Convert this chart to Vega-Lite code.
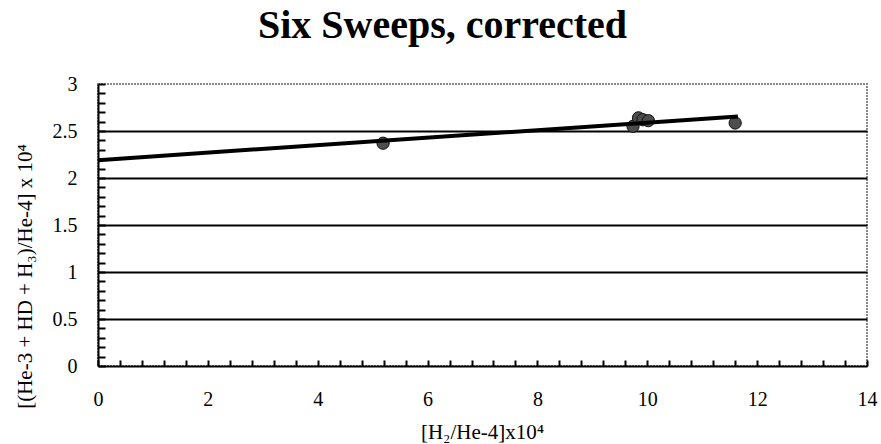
{
  "$schema": "https://vega.github.io/schema/vega-lite/v6.json",
  "autosize": {"type": "none"},
  "width": 769,
  "height": 282,
  "padding": {"left": 98, "top": 84, "right": 14, "bottom": 78},
  "background": "white",
  "config": {
    "font": "Liberation Serif",
    "view": {"stroke": "#888888", "strokeDash": [2, 1], "strokeWidth": 2}
  },
  "title": {
    "text": "Six Sweeps, corrected",
    "font": "Liberation Serif",
    "fontSize": 40,
    "fontWeight": "bold",
    "color": "black",
    "baseline": "alphabetic",
    "offset": -4,
    "dx": -40
  },
  "layer": [
    {
      "data": {"values": [
        {"h2": 5.19, "ratio": 2.37},
        {"h2": 9.74, "ratio": 2.55},
        {"h2": 9.84, "ratio": 2.64},
        {"h2": 9.92, "ratio": 2.62},
        {"h2": 10.02, "ratio": 2.61},
        {"h2": 11.6, "ratio": 2.585}
      ]},
      "mark": {"type": "point", "shape": "circle", "filled": true, "fill": "#4d4d4d", "stroke": "#111111", "strokeWidth": 1, "size": 150, "opacity": 1},
      "encoding": {
        "x": {
          "field": "h2", "type": "quantitative",
          "scale": {"domain": [0, 14], "nice": false, "zero": true},
          "axis": {
            "title": "[H₂/He-4]x10⁴",
            "titleFont": "Liberation Serif",
            "titleFontSize": 21,
            "titleFontWeight": "normal",
            "titleColor": "black",
            "titleBaseline": "middle",
            "titleX": 384,
            "titleY": 66,
            "tickCount": 200,
            "values": [0,0.4,0.8,1.2,1.6,2,2.4,2.8,3.2,3.6,4,4.4,4.8,5.2,5.6,6,6.4,6.8,7.2,7.6,8,8.4,8.8,9.2,9.6,10,10.4,10.8,11.2,11.6,12,12.4,12.8,13.2,13.6,14],
            "labelExpr": "(abs(datum.value/2 - round(datum.value/2)) < 0.001) ? format(datum.value, 'd') : ''",
            "labelFont": "Liberation Serif",
            "labelFontSize": 20,
            "labelColor": "black",
            "labelPadding": 29,
            "labelFlush": false,
            "labelOverlap": false,
            "tickSize": -6,
            "tickWidth": 2,
            "tickColor": "black",
            "domainColor": "black",
            "domainWidth": 2,
            "grid": false
          }
        },
        "y": {
          "field": "ratio", "type": "quantitative",
          "scale": {"domain": [0, 3], "nice": false},
          "axis": {
            "title": "[(He-3 + HD + H₃)/He-4] x 10⁴",
            "titleFont": "Liberation Serif",
            "titleFontSize": 21,
            "titleFontWeight": "normal",
            "titleColor": "black",
            "titleBaseline": "middle",
            "titleX": -73,
            "titleY": 192,
            "tickCount": 200,
            "values": [0,0.1,0.2,0.3,0.4,0.5,0.6,0.7,0.8,0.9,1,1.1,1.2,1.3,1.4,1.5,1.6,1.7,1.8,1.9,2,2.1,2.2,2.3,2.4,2.5,2.6,2.7,2.8,2.9,3],
            "labelExpr": "(abs(datum.value*2 - round(datum.value*2)) < 0.001) ? format(datum.value, '') : ''",
            "labelFont": "Liberation Serif",
            "labelFontSize": 20,
            "labelColor": "black",
            "labelPadding": 28,
            "labelFlush": false,
            "labelOverlap": false,
            "tickSize": -7,
            "tickWidth": 2,
            "tickColor": "black",
            "domainColor": "black",
            "domainWidth": 2,
            "grid": true,
            "gridColor": "black",
            "gridWidth": 2,
            "gridOpacity": {"condition": {"test": "(abs(datum.value*2 - round(datum.value*2)) < 0.001) && datum.value > 0.01 && datum.value < 2.99", "value": 1}, "value": 0}
          }
        }
      }
    },
    {
      "data": {"values": [
        {"h2": 0, "ratio": 2.19},
        {"h2": 11.65, "ratio": 2.655}
      ]},
      "mark": {"type": "line", "color": "black", "strokeWidth": 4},
      "encoding": {
        "x": {"field": "h2", "type": "quantitative"},
        "y": {"field": "ratio", "type": "quantitative"}
      }
    }
  ]
}
